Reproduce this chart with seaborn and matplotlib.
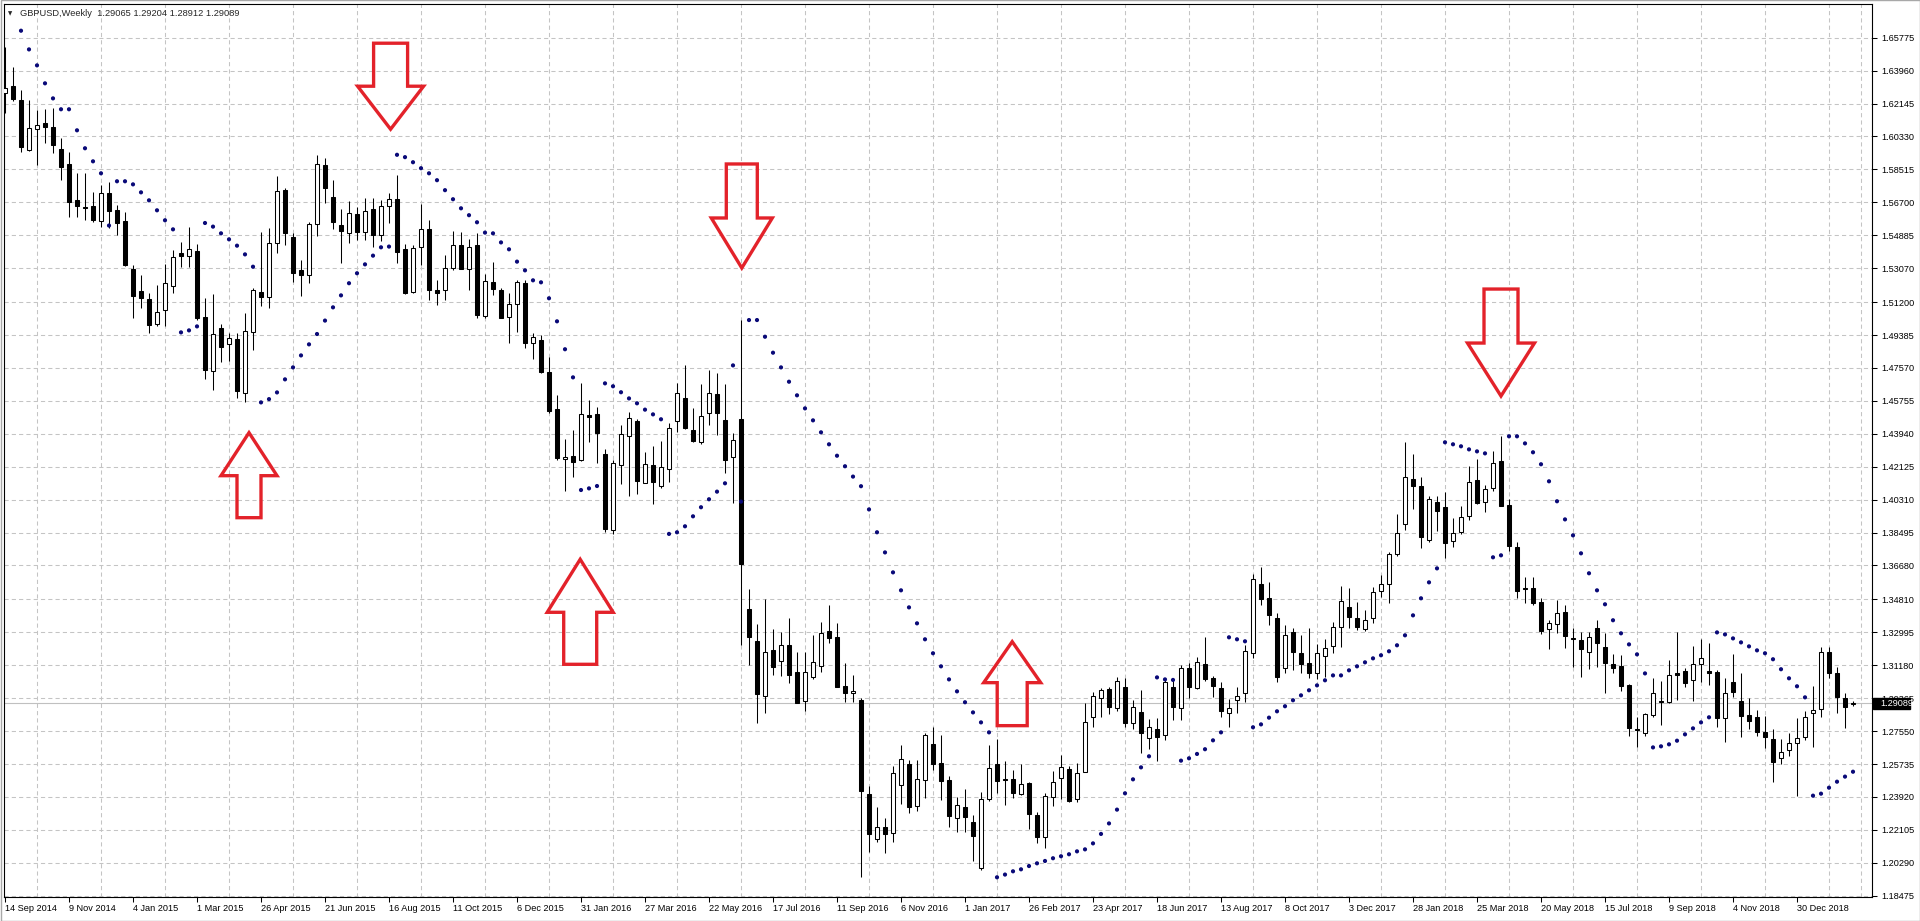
import numpy as np
import pandas as pd
import matplotlib
matplotlib.use("Agg")
from matplotlib import pyplot as plt
from matplotlib.patches import Polygon, Rectangle
import matplotlib.transforms as mtransforms
import seaborn as sns

nan = np.nan

# weekly GBPUSD candles, first bar is the week of 14 Sep 2014
opens = [
    1.6270, 1.6311, 1.6234, 1.5958, 1.6072, 1.6105, 1.6083, 1.5962, 1.5881, 1.5683,
    1.5642, 1.5650, 1.5569, 1.5722, 1.5628, 1.5567, 1.5300, 1.5180, 1.5135, 1.5000,
    1.5075, 1.5207, 1.5390, 1.5372, 1.5401, 1.5036, 1.4740, 1.4976, 1.4889, 1.4914,
    1.4621, 1.4957, 1.5173, 1.5146, 1.5444, 1.5738, 1.5477, 1.5297, 1.5269, 1.5550,
    1.5876, 1.5698, 1.5545, 1.5503, 1.5603, 1.5508, 1.5631, 1.5490, 1.5650, 1.5686,
    1.5411, 1.5175, 1.5424, 1.5524, 1.5188, 1.5188, 1.5309, 1.5436, 1.5304, 1.5436,
    1.5045, 1.5229, 1.5186, 1.5036, 1.5110, 1.5227, 1.4893, 1.4911, 1.4733, 1.4531,
    1.4253, 1.4271, 1.4250, 1.4497, 1.4503, 1.4283, 1.3864, 1.4222, 1.4382, 1.4465,
    1.4125, 1.4222, 1.4106, 1.4198, 1.4466, 1.4590, 1.4415, 1.4347, 1.4507, 1.4613,
    1.4470, 1.4268, 1.4474, 1.3428, 1.3254, 1.2950, 1.3202, 1.3143, 1.3230, 1.3083,
    1.2923, 1.3055, 1.3114, 1.3307, 1.3276, 1.3004, 1.2963, 1.2926, 1.2407, 1.2158,
    1.2225, 1.2191, 1.2458, 1.2572, 1.2344, 1.2485, 1.2682, 1.2581, 1.2485, 1.2274,
    1.2338, 1.2256, 1.1998, 1.2379, 1.2572, 1.2490, 1.2491, 1.2406, 1.2471, 1.2292,
    1.2169, 1.2390, 1.2495, 1.2544, 1.2379, 1.2531, 1.2831, 1.2936, 1.2985, 1.2880,
    1.2996, 1.2801, 1.2858, 1.2715, 1.2765, 1.2734, 1.3000, 1.2880, 1.3101, 1.2991,
    1.3123, 1.3046, 1.2991, 1.2853, 1.2926, 1.2967, 1.3187, 1.3566, 1.3487, 1.3380,
    1.3101, 1.3300, 1.3184, 1.3128, 1.3073, 1.3169, 1.3224, 1.3327, 1.3441, 1.3380,
    1.3316, 1.3377, 1.3527, 1.3564, 1.3731, 1.3895, 1.4143, 1.4106, 1.3809, 1.4016,
    1.3989, 1.3803, 1.3854, 1.3943, 1.4139, 1.4020, 1.4093, 1.4242, 1.4000, 1.3772,
    1.3542, 1.3542, 1.3465, 1.3316, 1.3344, 1.3410, 1.3268, 1.3257, 1.3189, 1.3321,
    1.3220, 1.3123, 1.3116, 1.3009, 1.2766, 1.2743, 1.2844, 1.2920, 1.2917, 1.3073,
    1.3086, 1.3037, 1.3123, 1.3086, 1.3083, 1.2825, 1.3024, 1.2921, 1.2844, 1.2831,
    1.2748, 1.2710, 1.2605, 1.2651, 1.2691, 1.2721, 1.2853, 1.2875, 1.3189, 1.3073,
    1.2936, 1.29065,
]

highs = [
    1.6525, 1.6418, 1.6289, 1.6234, 1.6179, 1.6183, 1.6188, 1.6023, 1.5945, 1.5830,
    1.5830, 1.5728, 1.5765, 1.5784, 1.5655, 1.5618, 1.5324, 1.5269, 1.5168, 1.5214,
    1.5332, 1.5405, 1.5451, 1.5534, 1.5440, 1.5141, 1.5165, 1.4999, 1.4948, 1.4948,
    1.5058, 1.5195, 1.5508, 1.5526, 1.5815, 1.5747, 1.5499, 1.5352, 1.5563, 1.5931,
    1.5912, 1.5793, 1.5631, 1.5677, 1.5646, 1.5692, 1.5692, 1.5683, 1.5724, 1.5819,
    1.5440, 1.5433, 1.5659, 1.5570, 1.5240, 1.5377, 1.5511, 1.5505, 1.5470, 1.5499,
    1.5273, 1.5339, 1.5196, 1.5168, 1.5242, 1.5242, 1.4951, 1.4939, 1.4819, 1.4608,
    1.4365, 1.4415, 1.4672, 1.4580, 1.4544, 1.4308, 1.4249, 1.4442, 1.4516, 1.4474,
    1.4295, 1.4327, 1.4356, 1.4455, 1.4672, 1.4773, 1.4534, 1.4668, 1.4746, 1.4727,
    1.4667, 1.4397, 1.5021, 1.3538, 1.3346, 1.3483, 1.3318, 1.3303, 1.3377, 1.3189,
    1.3193, 1.3285, 1.3358, 1.3450, 1.3349, 1.3129, 1.3064, 1.2936, 1.2452, 1.2335,
    1.2274, 1.2563, 1.2678, 1.2596, 1.2596, 1.2746, 1.2779, 1.2733, 1.2507, 1.2394,
    1.2434, 1.2292, 1.2417, 1.2678, 1.2709, 1.2590, 1.2541, 1.2574, 1.2476, 1.2307,
    1.2412, 1.2535, 1.2623, 1.2563, 1.2577, 1.2912, 1.2972, 1.2991, 1.2996, 1.3055,
    1.3046, 1.2926, 1.2981, 1.2822, 1.2825, 1.3046, 1.3040, 1.3119, 1.3132, 1.3162,
    1.3272, 1.3059, 1.3027, 1.2930, 1.2999, 1.3230, 1.3621, 1.3658, 1.3579, 1.3404,
    1.3340, 1.3321, 1.3285, 1.3321, 1.3233, 1.3261, 1.3358, 1.3555, 1.3542, 1.3468,
    1.3423, 1.3548, 1.3616, 1.3744, 1.3950, 1.4347, 1.4283, 1.4154, 1.4051, 1.4051,
    1.4071, 1.3931, 1.3996, 1.4218, 1.4253, 1.4112, 1.4299, 1.4384, 1.4033, 1.3796,
    1.3606, 1.3606, 1.3487, 1.3367, 1.3478, 1.3450, 1.3321, 1.3303, 1.3299, 1.3367,
    1.3294, 1.3178, 1.3174, 1.3015, 1.2835, 1.2853, 1.3046, 1.3031, 1.3147, 1.3299,
    1.3101, 1.3226, 1.3263, 1.3239, 1.3092, 1.3046, 1.3180, 1.3073, 1.2936, 1.2871,
    1.2840, 1.2765, 1.2710, 1.2746, 1.2825, 1.2868, 1.3004, 1.3220, 1.3217, 1.3110,
    1.2963, 1.29204,
]

lows = [
    1.6160, 1.6230, 1.5949, 1.5952, 1.5876, 1.5995, 1.5944, 1.5793, 1.5591, 1.5591,
    1.5572, 1.5563, 1.5536, 1.5530, 1.5490, 1.5320, 1.5030, 1.5085, 1.4952, 1.4990,
    1.4989, 1.5170, 1.5313, 1.5313, 1.5020, 1.4698, 1.4635, 1.4791, 1.4797, 1.4590,
    1.4571, 1.4857, 1.5100, 1.5090, 1.5392, 1.5434, 1.5232, 1.5151, 1.5227, 1.5484,
    1.5668, 1.5521, 1.5333, 1.5448, 1.5462, 1.5462, 1.5425, 1.5458, 1.5558, 1.5333,
    1.5166, 1.5170, 1.5324, 1.5129, 1.5105, 1.5129, 1.5298, 1.5300, 1.5186, 1.5030,
    1.5034, 1.5159, 1.5030, 1.4896, 1.4957, 1.4865, 1.4804, 1.4731, 1.4507, 1.4250,
    1.4080, 1.4154, 1.4246, 1.4351, 1.4235, 1.3854, 1.3842, 1.4117, 1.4053, 1.4062,
    1.4121, 1.4007, 1.4093, 1.4130, 1.4402, 1.4418, 1.4351, 1.4336, 1.4442, 1.4387,
    1.4180, 1.4014, 1.3230, 1.3119, 1.2798, 1.2853, 1.3064, 1.3059, 1.3018, 1.2908,
    1.2868, 1.3040, 1.3083, 1.3243, 1.2996, 1.2917, 1.2917, 1.1949, 1.2090, 1.2142,
    1.2085, 1.2145, 1.2353, 1.2305, 1.2314, 1.2384, 1.2541, 1.2375, 1.2228, 1.2201,
    1.2197, 1.2041, 1.1989, 1.2372, 1.2415, 1.2348, 1.2384, 1.2402, 1.2213, 1.2136,
    1.2112, 1.2342, 1.2381, 1.2366, 1.2366, 1.2528, 1.2776, 1.2835, 1.2848, 1.2866,
    1.2776, 1.2765, 1.2636, 1.2655, 1.2592, 1.2706, 1.2816, 1.2816, 1.2936, 1.2985,
    1.3031, 1.2945, 1.2835, 1.2776, 1.2853, 1.2917, 1.3156, 1.3450, 1.3340, 1.3028,
    1.3077, 1.3092, 1.3073, 1.3046, 1.3042, 1.3055, 1.3187, 1.3220, 1.3321, 1.3312,
    1.3309, 1.3349, 1.3496, 1.3459, 1.3722, 1.3864, 1.3979, 1.3766, 1.3799, 1.3858,
    1.3711, 1.3768, 1.3842, 1.3919, 1.4007, 1.3965, 1.4081, 1.3998, 1.3750, 1.3487,
    1.3463, 1.3450, 1.3290, 1.3206, 1.3298, 1.3215, 1.3106, 1.3051, 1.3095, 1.3106,
    1.2963, 1.3073, 1.2978, 1.2728, 1.2665, 1.2728, 1.2831, 1.2789, 1.2908, 1.2927,
    1.3000, 1.2923, 1.3027, 1.3009, 1.2779, 1.2697, 1.2945, 1.2724, 1.2767, 1.2728,
    1.2660, 1.2476, 1.2574, 1.2618, 1.2397, 1.2706, 1.2669, 1.2834, 1.3046, 1.2857,
    1.2774, 1.28912,
]

closes = [
    1.6300, 1.6240, 1.5973, 1.6077, 1.6096, 1.6087, 1.5984, 1.5866, 1.5670, 1.5652,
    1.5638, 1.5572, 1.5719, 1.5624, 1.5554, 1.5324, 1.5153, 1.5144, 1.4994, 1.5064,
    1.5225, 1.5368, 1.5372, 1.5412, 1.5034, 1.4744, 1.4945, 1.4874, 1.4920, 1.4632,
    1.4960, 1.5186, 1.5149, 1.5444, 1.5733, 1.5499, 1.5282, 1.5269, 1.5553, 1.5879,
    1.5747, 1.5563, 1.5514, 1.5609, 1.5508, 1.5624, 1.5490, 1.5650, 1.5690, 1.5398,
    1.5170, 1.5420, 1.5524, 1.5188, 1.5170, 1.5307, 1.5436, 1.5304, 1.5424, 1.5049,
    1.5236, 1.5190, 1.5031, 1.5110, 1.5233, 1.4893, 1.4926, 1.4736, 1.4520, 1.4259,
    1.4266, 1.4240, 1.4503, 1.4488, 1.4397, 1.3869, 1.4231, 1.4393, 1.4483, 1.4136,
    1.4227, 1.4126, 1.4213, 1.4424, 1.4617, 1.4428, 1.4356, 1.4492, 1.4617, 1.4510,
    1.4250, 1.4360, 1.3674, 1.3276, 1.2958, 1.3193, 1.3110, 1.3230, 1.3064, 1.2912,
    1.3079, 1.3134, 1.3294, 1.3267, 1.3000, 1.2963, 1.2978, 1.2427, 1.2186, 1.2228,
    1.2186, 1.2522, 1.2599, 1.2338, 1.2489, 1.2733, 1.2572, 1.2482, 1.2289, 1.2348,
    1.2283, 1.2177, 1.2379, 1.2550, 1.2482, 1.2486, 1.2412, 1.2463, 1.2296, 1.2169,
    1.2397, 1.2476, 1.2555, 1.2371, 1.2526, 1.2807, 1.2950, 1.2981, 1.2890, 1.3033,
    1.2798, 1.2890, 1.2743, 1.2776, 1.2721, 1.3024, 1.2890, 1.3101, 1.2996, 1.3138,
    1.3040, 1.3005, 1.2868, 1.2884, 1.2948, 1.3197, 1.3594, 1.3483, 1.3395, 1.3055,
    1.3285, 1.3193, 1.3125, 1.3073, 1.3187, 1.3211, 1.3331, 1.3472, 1.3382, 1.3327,
    1.3367, 1.3524, 1.3564, 1.3731, 1.3845, 1.4158, 1.4108, 1.3823, 1.4035, 1.3968,
    1.3794, 1.3845, 1.3937, 1.4130, 1.4011, 1.4088, 1.4235, 1.3998, 1.3777, 1.3529,
    1.3536, 1.3463, 1.3309, 1.3349, 1.3404, 1.3281, 1.3262, 1.3206, 1.3272, 1.3239,
    1.3132, 1.3101, 1.3004, 1.2770, 1.2761, 1.2847, 1.2963, 1.2917, 1.3062, 1.3064,
    1.3018, 1.3123, 1.3156, 1.3073, 1.2825, 1.2963, 1.2972, 1.2840, 1.2812, 1.2752,
    1.2724, 1.2586, 1.2638, 1.2691, 1.2715, 1.2834, 1.2871, 1.3189, 1.3077, 1.2941,
    1.2890, 1.29089,
]

# Parabolic SAR dots (first two lie above the window)
sar = [
    nan, nan, 1.6616, 1.6513, 1.6425, 1.6326, 1.6243, 1.6183, 1.6183, 1.6067,
    1.5968, 1.5896, 1.5830, 1.5542, 1.5786, 1.5786, 1.5769, 1.5725, 1.5681, 1.5626,
    1.5571, 1.5521, 1.4953, 1.4964, 1.4986, 1.5556, 1.5536, 1.5499, 1.5466, 1.5431,
    1.5383, 1.5315, 1.4567, 1.4585, 1.4622, 1.4694, 1.4760, 1.4826, 1.4887, 1.4944,
    1.5018, 1.5091, 1.5157, 1.5224, 1.5279, 1.5328, 1.5376, 1.5422, 1.5426, 1.5932,
    1.5919, 1.5891, 1.5858, 1.5830, 1.5792, 1.5737, 1.5687, 1.5637, 1.5599, 1.5560,
    1.5503, 1.5499, 1.5449, 1.5411, 1.5343, 1.5295, 1.5240, 1.5229, 1.5141, 1.5014,
    1.4860, 1.4705, 1.4084, 1.4093, 1.4106, 1.4672, 1.4656, 1.4623, 1.4589, 1.4562,
    1.4527, 1.4501, 1.4474, 1.3842, 1.3851, 1.3884, 1.3939, 1.3989, 1.4033, 1.4075,
    1.4121, 1.4771, 1.4020, 1.5021, 1.5021, 1.4929, 1.4841, 1.4760, 1.4681, 1.4606,
    1.4534, 1.4468, 1.4402, 1.4336, 1.4273, 1.4215, 1.4158, 1.4105, 1.3977, 1.3851,
    1.3740, 1.3630, 1.3531, 1.3437, 1.3349, 1.3261, 1.3184, 1.3112, 1.3040, 1.2974,
    1.2914, 1.2858, 1.2803, 1.2748, 1.1949, 1.1964, 1.1982, 1.1993, 1.2011, 1.2026,
    1.2039, 1.2054, 1.2065, 1.2076, 1.2092, 1.2103, 1.2136, 1.2188, 1.2246, 1.2322,
    1.2412, 1.2489, 1.2555, 1.2616, 1.3051, 1.3040, 1.3037, 1.2592, 1.2605, 1.2629,
    1.2655, 1.2704, 1.2748, 1.3272, 1.3261, 1.3250, 1.2776, 1.2792, 1.2829, 1.2864,
    1.2892, 1.2925, 1.2952, 1.2980, 1.3007, 1.3035, 1.3062, 1.3062, 1.3090, 1.3112,
    1.3134, 1.3156, 1.3173, 1.3195, 1.3228, 1.3283, 1.3393, 1.3487, 1.3575, 1.3652,
    1.4347, 1.4336, 1.4325, 1.4308, 1.4297, 1.4286, 1.3713, 1.3724, 1.4380, 1.4380,
    1.4341, 1.4292, 1.4226, 1.4132, 1.4022, 1.3922, 1.3834, 1.3735, 1.3625, 1.3531,
    1.3454, 1.3366, 1.3294, 1.3233, 1.3178, 1.3073, 1.2665, 1.2671, 1.2682, 1.2702,
    1.2737, 1.2770, 1.2803, 1.2831, 1.3299, 1.3288, 1.3266, 1.3244, 1.3222, 1.3200,
    1.3184, 1.3151, 1.3096, 1.3046, 1.3002, 1.2941, 1.2399, 1.2410, 1.2443, 1.2476,
    1.2504, 1.2531,
]

# right-hand price scale as printed by the terminal
price_ticks = [
    1.65775, 1.63960, 1.62145, 1.60330, 1.58515, 1.56700, 1.54885, 1.53070, 1.51200,
    1.49385, 1.47570, 1.45755, 1.43940, 1.42125, 1.40310, 1.38495, 1.36680, 1.34810,
    1.32995, 1.31180, 1.29365, 1.27550, 1.25735, 1.23920, 1.22105, 1.20290, 1.18475,
]

# hand-drawn red markers: (bar index of tip, tip price, direction)
arrows = [
    (30.5, 1.4400, "up"),
    (48.2, 1.6073, "down"),
    (71.9, 1.3702, "up"),
    (92.1, 1.5308, "down"),
    (125.9, 1.3248, "up"),
    (187.0, 1.4602, "down"),
]
# (head width, shaft width, head height, shaft height) in pixels
arrow_sizes = [
    (56, 24, 43, 42),
    (66, 34, 43, 43),
    (66, 33, 53, 52),
    (61, 31, 50, 54),
    (57, 30, 41, 43),
    (67, 34, 53, 54),
]

title = "GBPUSD,Weekly  1.29065 1.29204 1.28912 1.29089"

df = pd.DataFrame({"open": opens, "high": highs, "low": lows,
                   "close": closes, "sar": sar})
df["date"] = pd.date_range("2014-09-14", periods=len(df), freq="W-SUN")
df["bar"] = np.arange(len(df))
df["bull"] = df["close"] > df["open"]

sns.set_style("white")
plt.rcParams["font.family"] = ["Liberation Sans", "DejaVu Sans"]
plt.rcParams["font.size"] = 6.6

W, H = 1920, 921
fig = plt.figure(figsize=(W / 100, H / 100), dpi=100)
fig.patch.set_facecolor("white")

# plot frame in pixels: left 4, right 1872, top 4, bottom 897
ax = fig.add_axes([4 / W, (H - 897) / H, 1868 / W, 893 / H])
px_per_unit = 858 / (1.65775 - 1.18475)
ax.set_xlim(-0.125, -0.125 + 1868 / 8)
ax.set_ylim(1.65775 - (897 - 37.7) / px_per_unit, 1.65775 + (37.7 - 4) / px_per_unit)
px_per_bar = 8.0

# grid
ax.set_axisbelow(True)
ax.set_xticks(df["bar"][::8])
ax.set_xticklabels([f"{d.day} {d.strftime('%b %Y')}" for d in df["date"][::8]])
ax.set_xticks(np.arange(0, len(df) + 1, 4), minor=True)
ax.set_yticks(price_ticks)
ax.set_yticklabels([f"{p:.5f}" for p in price_ticks])
grid_kw = dict(color="#c4c4c4", linewidth=0.75, linestyle=(0, (4, 3)))
ax.grid(True, axis="x", which="minor", **grid_kw)
ax.grid(True, axis="y", which="major", **grid_kw)
ax.grid(False, axis="x", which="major")

ax.yaxis.tick_right()
ax.tick_params(axis="x", which="major", bottom=True, direction="out",
               length=3.5, width=0.75, pad=1.5, labelsize=6.6, colors="black")
ax.tick_params(axis="x", which="minor", bottom=False, length=0)
ax.tick_params(axis="y", which="major", right=True, left=False, direction="out",
               length=3.5, width=0.75, pad=3.5, labelsize=6.6, colors="black")
for lab in ax.get_xticklabels():
    lab.set_horizontalalignment("left")
for sp in ax.spines.values():
    sp.set_color("black")
    sp.set_linewidth(0.8)

# current price line
last = closes[-1]
ax.axhline(last, color="#c0c0c0", linewidth=0.8, zorder=1)

# candles
ax.vlines(df["bar"], df["low"], df["high"], color="black", linewidth=0.75, zorder=3)
body_low = np.minimum(df["open"], df["close"])
body_h = np.abs(df["close"] - df["open"])
ax.bar(df["bar"], body_h, bottom=body_low, width=0.5,
       color=np.where(df["bull"], "white", "black"), edgecolor="black",
       linewidth=0.75, zorder=4)

# parabolic SAR
sns.scatterplot(data=df, x="bar", y="sar", ax=ax, marker="o", s=9,
                color="#0a0a78", edgecolor="none", legend=False, zorder=5)
ax.set_xlabel("")
ax.set_ylabel("")

# red outline arrows
for (bar, tip, way), (hw_px, sw_px, hh_px, sh_px) in zip(arrows, arrow_sizes):
    sign = 1 if way == "down" else -1
    hw = hw_px / 2 / px_per_bar
    sw = sw_px / 2 / px_per_bar
    hh = sign * hh_px / px_per_unit
    top = sign * (hh_px + sh_px) / px_per_unit
    verts = [(bar, tip), (bar - hw, tip + hh), (bar - sw, tip + hh),
             (bar - sw, tip + top), (bar + sw, tip + top), (bar + sw, tip + hh),
             (bar + hw, tip + hh)]
    ax.add_patch(Polygon(verts, closed=True, fill=False, edgecolor="#e3222a",
                         linewidth=2.4, joinstyle="miter", zorder=6))

# last price tag on the price scale
trans = mtransforms.blended_transform_factory(ax.transAxes, ax.transData)
tag_h = 11 / px_per_unit
ax.add_patch(Rectangle((1 + 1 / 1868, last - tag_h / 2), 37 / 1868, tag_h,
                       transform=trans, facecolor="black", edgecolor="black",
                       clip_on=False, zorder=10))
ax.text(1 + 8 / 1868, last, f"{last:.5f}", transform=trans, color="white",
        fontsize=6.6, ha="left", va="center", clip_on=False, zorder=11)

# header
fig.text(8 / W, 1 - 13.5 / H, "▼", fontsize=4, ha="left", va="center",
         family=["DejaVu Sans"])
fig.text(19.5 / W, 1 - 13 / H, title, fontsize=6.7, ha="left", va="center")

# outer window border
fig.add_artist(Rectangle((0.5 / W, 0.5 / H), 1 - 1 / W, 1 - 1 / H,
                         transform=fig.transFigure, fill=False,
                         edgecolor="#a8a8a8", linewidth=1.0))

fig.savefig("out.png", dpi=100, facecolor="white")
